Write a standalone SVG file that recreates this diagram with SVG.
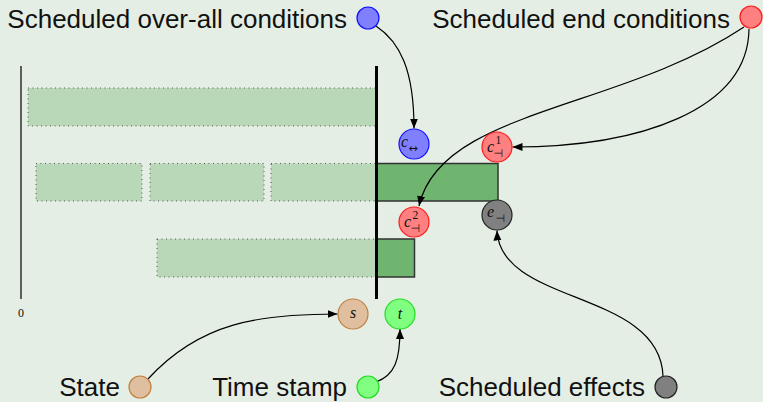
<svg xmlns="http://www.w3.org/2000/svg" width="763" height="402" viewBox="0 0 763 402">
  <defs>
    <marker id="arrow" viewBox="0 0 10 10" refX="10" refY="5" markerWidth="10" markerHeight="10" markerUnits="userSpaceOnUse" orient="auto">
      <path d="M0,1 L10,5 L0,9 Z" fill="#000"/>
    </marker>
  </defs>
  <style>
    .label { font-family: "Liberation Sans", Arial, sans-serif; font-size: 26px; fill: #111; }
    .math { font-family: "Liberation Serif", "DejaVu Serif", serif; font-style: italic; font-size: 16px; fill: #111; }
    .sym { font-family: "DejaVu Sans", sans-serif; font-size: 11px; fill: #111; }
    .num { font-family: "Liberation Serif", serif; font-size: 11.5px; fill: #111; }
    .plan { fill: #b8d8b8; stroke: #555; stroke-width: 1; stroke-dasharray: 1 3.5; }
    .exec { fill: #6fb46f; stroke: #333; stroke-width: 1.5; }
    .edge { fill: none; stroke: #000; stroke-width: 1.2; marker-end: url(#arrow); }
    .blue { fill: #8080ff; stroke: #1010ff; stroke-width: 1.2; }
    .red { fill: #ff8080; stroke: #ff1a1a; stroke-width: 1.2; }
    .gray { fill: #808080; stroke: #222; stroke-width: 1.2; }
    .brown { fill: #dfbf9f; stroke: #c08040; stroke-width: 1.2; }
    .green { fill: #80ff80; stroke: #22dd22; stroke-width: 1.2; }
  </style>

  <rect x="0" y="0" width="763" height="402" fill="#e4eee4"/>

  <!-- time axis -->
  <g id="axis">
    <line x1="21" y1="66" x2="21" y2="299" stroke="#111" stroke-width="1.3"/>
    <text x="21" y="317" text-anchor="middle" font-family="Liberation Serif, serif" font-size="12" fill="#111">0</text>
  </g>

  <!-- planned (light) and executed (dark) intervals -->
  <g id="row1">
    <rect class="plan" x="28" y="88" width="348" height="38"/>
  </g>
  <g id="row2">
    <rect class="plan" x="36" y="163.5" width="106" height="37.5"/>
    <rect class="plan" x="150" y="163.5" width="114" height="37.5"/>
    <rect class="plan" x="271" y="163.5" width="105" height="37.5"/>
    <rect class="exec" x="376" y="163.5" width="122" height="37.5"/>
  </g>
  <g id="row3">
    <rect class="plan" x="157" y="239" width="219" height="38"/>
    <rect class="exec" x="376" y="239" width="38.5" height="38"/>
  </g>
  <!-- current time marker -->
  <g id="now">
    <line x1="376.5" y1="66" x2="376.5" y2="299" stroke="#000" stroke-width="3"/>
  </g>

  <!-- connectors -->
  <g id="connectors">
    <path class="edge" d="M376,26 C400,42 414,70 414,128.5"/>
    <path class="edge" d="M749,29 C748,110 640,147 512.5,147"/>
    <path class="edge" d="M744,27 C620,110 440,110 419,206"/>
    <path class="edge" d="M663,376 C660,290 500,305 497,230.5"/>
    <path class="edge" d="M148,379 C200,322 260,314 337.5,314"/>
    <path class="edge" d="M376,382 C395,375 400,360 400,329"/>
  </g>

  <!-- state nodes -->
  <g id="c-overall">
    <circle class="blue" cx="414" cy="144" r="15"/>
    <text class="math" x="401" y="146.5">c</text>
    <text class="sym" x="408.5" y="152" font-size="17">↔</text>
  </g>
  <g id="c-end-1">
    <circle class="red" cx="497" cy="147" r="15"/>
    <text class="math" x="487" y="152">c</text>
    <text class="num" x="495.5" y="143.5">1</text>
    <text class="sym" x="493.5" y="157">⊣</text>
  </g>
  <g id="c-end-2">
    <circle class="red" cx="414" cy="222" r="15"/>
    <text class="math" x="404" y="227">c</text>
    <text class="num" x="412.5" y="218.5">2</text>
    <text class="sym" x="410.5" y="232">⊣</text>
  </g>
  <g id="e-end">
    <circle class="gray" cx="497" cy="215" r="15"/>
    <text class="math" x="487" y="217">e</text>
    <text class="sym" x="495.5" y="222">⊣</text>
  </g>
  <g id="s">
    <circle class="brown" cx="353" cy="314" r="15"/>
    <text class="math" x="353" y="318" text-anchor="middle">s</text>
  </g>
  <g id="t">
    <circle class="green" cx="400" cy="314" r="15"/>
    <text class="math" x="400" y="319" text-anchor="middle">t</text>
  </g>

  <!-- legend -->
  <g id="legend-overall">
    <text class="label" x="347" y="28" text-anchor="end">Scheduled over-all conditions</text>
    <circle class="blue" cx="368" cy="18" r="11"/>
  </g>
  <g id="legend-end">
    <text class="label" x="730" y="28" text-anchor="end">Scheduled end conditions</text>
    <circle class="red" cx="751" cy="17" r="11"/>
  </g>
  <g id="legend-state">
    <text class="label" x="120" y="396" text-anchor="end">State</text>
    <circle class="brown" cx="140" cy="387" r="11"/>
  </g>
  <g id="legend-time">
    <text class="label" x="347" y="396" text-anchor="end">Time stamp</text>
    <circle class="green" cx="368" cy="387" r="11"/>
  </g>
  <g id="legend-effects">
    <text class="label" x="645" y="396" text-anchor="end">Scheduled effects</text>
    <circle class="gray" cx="666" cy="387" r="11"/>
  </g>
</svg>
